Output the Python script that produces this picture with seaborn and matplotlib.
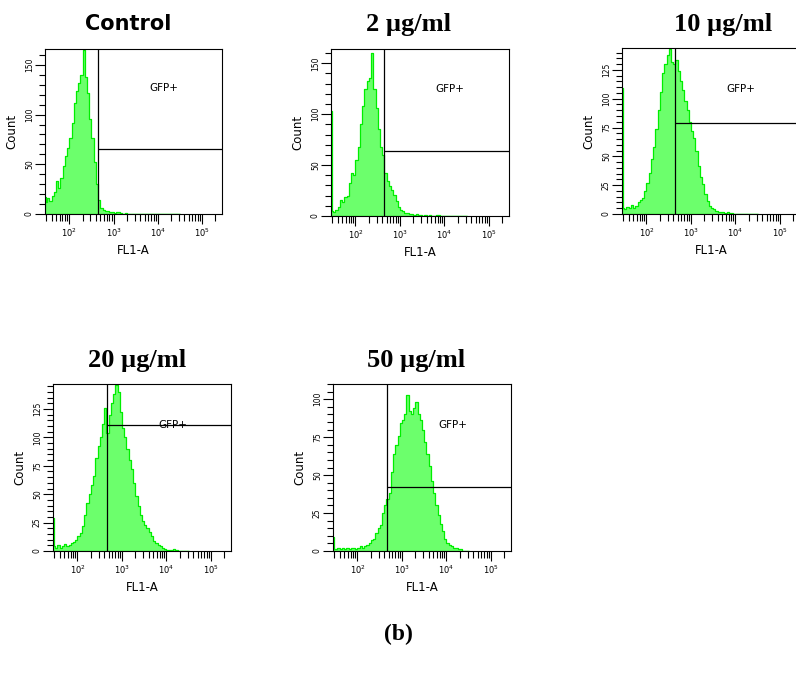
import numpy as np
import pandas as pd
import matplotlib
matplotlib.use("Agg")
import matplotlib.pyplot as plt
import seaborn as sns
from matplotlib.ticker import MultipleLocator

# ---------------- data ----------------
panel_titles = ["Control", "2 µg/ml", "10 µg/ml", "20 µg/ml", "50 µg/ml"]
figure_label = "(b)"
x_label = "FL1-A"
y_label = "Count"
gate_label = "GFP+"

# FL1-A histogram bin edges (log10 units)
fl1_bin_edges_log = [1.45, 1.465] + [round(1.50 + 0.05 * i, 3) for i in range(61)]

counts_control = [17, 12,
                  16, 13, 18, 22, 33, 26, 36, 48, 58, 66,
                  76, 92, 112, 124, 132, 140, 165, 138, 122, 96,
                  76, 52, 30, 14, 6, 4, 3, 3, 2, 2,
                  1, 2, 2, 1, 0, 1, 0, 0, 0, 0,
                  0, 0, 0, 0, 0, 0, 0, 0, 0, 0,
                  0, 0, 0, 0, 0, 0, 0, 0, 0, 0]
counts_2 = [103, 5,
            4, 6, 9, 16, 14, 19, 20, 32, 42, 40,
            55, 68, 90, 108, 125, 133, 136, 160, 125, 106,
            85, 68, 60, 42, 34, 29, 26, 21, 15, 9,
            6, 5, 3, 3, 2, 2, 1, 2, 1, 1,
            0, 1, 0, 1, 0, 0, 1, 1, 0, 0,
            0, 0, 0, 0, 0, 0, 0, 0, 0, 0]
counts_10 = [109, 5,
             4, 6, 5, 8, 5, 7, 10, 12, 14, 20,
             27, 36, 48, 58, 74, 90, 106, 122, 130, 138,
             143, 132, 130, 134, 124, 115, 108, 98, 90, 80,
             72, 66, 55, 42, 32, 26, 17, 11, 7, 5,
             4, 3, 2, 2, 2, 1, 2, 1, 1, 0,
             0, 0, 0, 0, 0, 0, 0, 0, 0, 0]
counts_20 = [29, 4,
             3, 5, 3, 4, 6, 4, 5, 7, 8, 10,
             13, 16, 22, 32, 42, 50, 58, 66, 82, 92,
             100, 112, 126, 104, 120, 130, 138, 146, 140, 122,
             108, 100, 90, 80, 72, 60, 48, 40, 32, 26,
             23, 20, 17, 13, 9, 7, 5, 4, 3, 2,
             1, 1, 1, 2, 1, 0, 0, 0, 0, 0]
counts_50 = [9, 1,
             1, 2, 1, 2, 1, 2, 1, 2, 2, 1,
             2, 3, 2, 3, 4, 5, 7, 8, 12, 15,
             17, 25, 30, 34, 38, 52, 64, 70, 76, 84,
             86, 90, 103, 92, 90, 94, 98, 90, 86, 80,
             72, 64, 56, 46, 38, 30, 24, 18, 13, 8,
             5, 4, 3, 2, 2, 1, 1, 0, 0, 0]
panel_counts = [counts_control, counts_2, counts_10, counts_20, counts_50]

gate_fl1 = [445, 440, 442, 464, 464]        # vertical gate (FL1-A)
gate_count = [65, 64, 79, 111, 42]          # horizontal gate (Count)
gate_label_pos = [(14000, 127), (13200, 125), (13200, 108), (14000, 111), (14000, 83)]
y_max = [166, 164, 144, 147, 110]
y_major_step = [50, 50, 25, 25, 25]
y_minor_step = [10, 10, 5, 5, 5]

# ---------------- layout / style ----------------
W, H = 796, 675
axes_px = [(45, 49, 222, 214), (331, 49, 509, 216), (622, 48, 800, 214),
           (53, 384, 231, 551), (333, 384, 511, 551)]
title_px = [(128, 30), (408, 31), (723, 31), (137, 367), (416, 367)]
fill_col = "#6cff6c"
edge_col = "#00ee00"

sns.set_style("ticks")
plt.rcParams["font.family"] = ["DejaVu Sans"]
plt.rcParams["axes.edgecolor"] = "black"
plt.rcParams["xtick.color"] = "black"
plt.rcParams["ytick.color"] = "black"
plt.rcParams["text.color"] = "black"
plt.rcParams["axes.labelcolor"] = "black"

fig = plt.figure(figsize=(W / 100, H / 100), dpi=100)
edges = [float(e) for e in fl1_bin_edges_log]
edges_arr = np.array(edges)
centers = 10 ** ((edges_arr[:-1] + edges_arr[1:]) / 2)

for i in range(5):
    x0, y0, x1, y1 = axes_px[i]
    ax = fig.add_axes([x0 / W, 1 - y1 / H, (x1 - x0) / W, (y1 - y0) / H])
    df = pd.DataFrame({"fl1": centers, "count": np.array(panel_counts[i], dtype=float)})
    sns.histplot(data=df, x="fl1", weights="count", bins=edges, log_scale=True,
                 element="step", fill=True, color=fill_col, alpha=1,
                 edgecolor=edge_col, linewidth=0.9, ax=ax)
    xmax = 10 ** 5.45
    ax.set_xlim(10 ** 1.45, xmax)
    ax.set_ylim(0, y_max[i])
    ax.axvline(gate_fl1[i], color="black", lw=0.9)
    ax.hlines(gate_count[i], gate_fl1[i], xmax, color="black", lw=0.9)
    gx, gy = gate_label_pos[i]
    ax.text(gx, gy, gate_label, ha="center", va="center", fontsize=7.5, color="black")

    ax.yaxis.set_major_locator(MultipleLocator(y_major_step[i]))
    ax.yaxis.set_minor_locator(MultipleLocator(y_minor_step[i]))
    ax.tick_params(axis="x", which="major", length=7, width=0.8, labelsize=6, pad=2,
                   labelcolor="black")
    ax.tick_params(axis="x", which="minor", length=5, width=0.8)
    ax.tick_params(axis="y", which="major", length=7, width=0.8, labelsize=5.5, pad=1,
                   labelcolor="black")
    ax.tick_params(axis="y", which="minor", length=4, width=0.8)
    for lab in ax.get_yticklabels():
        lab.set_rotation(90)
        lab.set_va("center")
    ax.set_xlabel(x_label, fontsize=8.5, labelpad=4, color="black")
    ax.set_ylabel(y_label, fontsize=8.5, labelpad=5, color="black")
    for sp in ax.spines.values():
        sp.set_linewidth(0.8)
        sp.set_color("black")

    tx, ty = title_px[i]
    if i == 0:
        fig.text(tx / W, 1 - ty / H, panel_titles[i], ha="center", va="baseline",
                 fontsize=15, fontweight="bold", family="DejaVu Sans", color="black")
    else:
        fig.text(tx / W, 1 - ty / H, panel_titles[i], ha="center", va="baseline",
                 fontsize=19, fontweight="bold", family="Liberation Serif", color="black")

fig.text(398 / W, 1 - 640 / H, figure_label, ha="center", va="baseline",
         fontsize=17, fontweight="bold", family="Liberation Serif", color="black")

fig.savefig("out.png", dpi=100)
